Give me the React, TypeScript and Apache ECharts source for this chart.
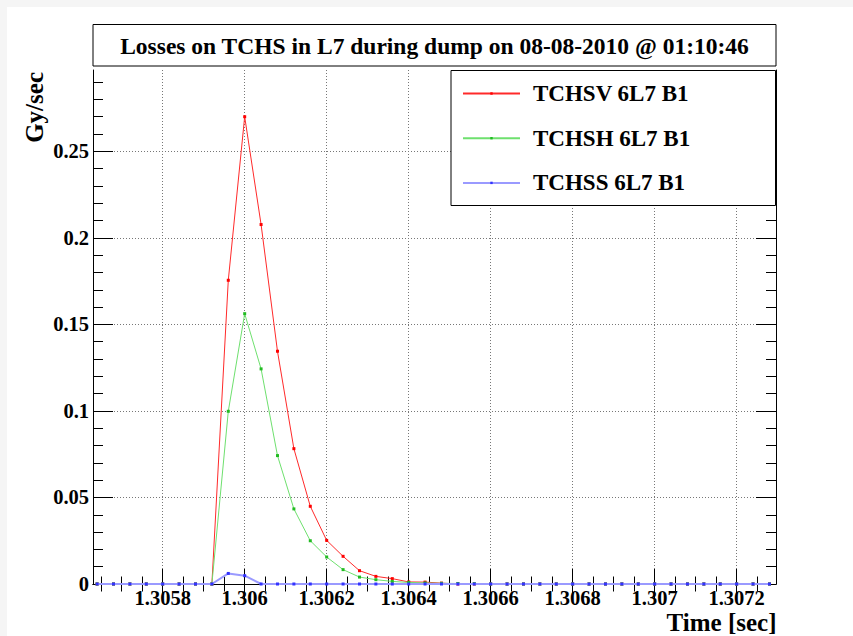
import React, { useEffect, useRef } from "react";
import * as echarts from "echarts";

// Time samples (s), 40 µs apart
const times = [
  1.30564, 1.30568, 1.30572, 1.30576, 1.3058, 1.30584, 1.30588, 1.30592,
  1.30596, 1.306, 1.30604, 1.30608, 1.30612, 1.30616, 1.3062, 1.30624,
  1.30628, 1.30632, 1.30636, 1.3064, 1.30644, 1.30648, 1.30652, 1.30656,
  1.3066, 1.30664, 1.30668, 1.30672, 1.30676, 1.3068, 1.30684, 1.30688,
  1.30692, 1.30696, 1.307, 1.30704, 1.30708, 1.30712, 1.30716, 1.3072,
  1.30724, 1.30728,
];

// Gy/sec
const tchsv = [
  0, 0, 0, 0, 0, 0, 0, 0,
  0.1755, 0.27, 0.2077, 0.1345, 0.0782, 0.0449, 0.0252, 0.016,
  0.0077, 0.0044, 0.0031, 0.0012, 0.0011, 0.0005, 0, 0,
  0, 0, 0, 0, 0, 0, 0, 0,
  0, 0, 0, 0, 0, 0, 0, 0,
  0, 0,
];
const tchsh = [
  0, 0, 0, 0, 0, 0, 0, 0,
  0.0998, 0.1562, 0.1243, 0.0742, 0.0434, 0.025, 0.0156, 0.0083,
  0.004, 0.0025, 0.0015, 0.0009, 0.0006, 0.0004, 0.0003, 0.0002,
  0, 0, 0, 0, 0, 0, 0, 0,
  0, 0, 0, 0, 0, 0, 0, 0,
  0, 0,
];
const tchss = [
  0, 0, 0, 0, 0, 0, 0, 0,
  0.0061, 0.0048, 0, 0, 0, 0, 0, 0,
  0, 0, 0, 0, 0, 0, 0, 0,
  0, 0, 0, 0, 0, 0, 0, 0,
  0, 0, 0, 0, 0, 0, 0, 0,
  0, 0,
];

const seriesNames = ["TCHSV 6L7 B1", "TCHSH 6L7 B1", "TCHSS 6L7 B1"];
const xMajorTicks = [1.3058, 1.306, 1.3062, 1.3064, 1.3066, 1.3068, 1.307, 1.3072];
const yMajorTicks = [0, 0.05, 0.1, 0.15, 0.2, 0.25];
const titleText = "Losses on TCHS in L7 during dump on 08-08-2010 @ 01:10:46";
const xName = "Time [sec]";
const yName = "Gy/sec";

const X_MIN = 1.30563;
const X_MAX = 1.307296;
const Y_MIN = 0;
const Y_MAX = 0.297;
const X_MINOR_STEP = 0.00005;
const Y_MINOR_STEP = 0.01;

function minorValues(min: number, max: number, step: number): number[] {
  const out: number[] = [];
  const a = Math.ceil(min / step - 1e-7);
  const b = Math.floor(max / step + 1e-7);
  for (let i = a; i <= b; i++) out.push(parseFloat((i * step).toFixed(6)));
  return out;
}

const FONT = "'Liberation Serif', 'Times New Roman', serif";

export default function App() {
  const ref = useRef<HTMLDivElement>(null);

  useEffect(() => {
    if (!ref.current) return;
    const chart = echarts.init(ref.current, undefined, { renderer: "svg" });

    const xMinor = minorValues(X_MIN, X_MAX, X_MINOR_STEP);
    const yMinor = minorValues(Y_MIN, Y_MAX, Y_MINOR_STEP);

    const gridLeft = 93;
    const gridTop = 70;
    const gridW = 683;
    const gridH = 514;

    const frameLine = { show: true, lineStyle: { color: "#000", width: 1 } };

    const xAxisBase = (position: "top" | "bottom", ticks: number[], len: number, main: boolean, showLabel: boolean) => ({
      type: "value" as const,
      min: X_MIN,
      max: X_MAX,
      position,
      axisLine: main ? frameLine : { show: false },
      axisTick: {
        show: true,
        inside: true,
        length: len,
        customValues: ticks,
        lineStyle: { color: "#000", width: 1 },
      },
      axisLabel: showLabel
        ? {
            show: true,
            customValues: xMajorTicks,
            formatter: (v: number) => String(parseFloat(v.toFixed(4))),
            fontFamily: FONT,
            fontWeight: "bold" as const,
            fontSize: 20.5,
            color: "#000",
            margin: 3,
          }
        : { show: false },
      splitLine:
        showLabel
          ? { show: true, lineStyle: { color: "#777", type: [1, 2], width: 1 } }
          : { show: false },
    });

    const yAxisBase = (position: "left" | "right", ticks: number[], len: number, main: boolean, showLabel: boolean) => ({
      type: "value" as const,
      min: Y_MIN,
      max: Y_MAX,
      position,
      axisLine: main ? frameLine : { show: false },
      axisTick: {
        show: true,
        inside: true,
        length: len,
        customValues: ticks,
        lineStyle: { color: "#000", width: 1 },
      },
      axisLabel: showLabel
        ? {
            show: true,
            customValues: yMajorTicks,
            formatter: (v: number) => String(parseFloat(v.toFixed(3))),
            fontFamily: FONT,
            fontWeight: "bold" as const,
            fontSize: 20.5,
            color: "#000",
            margin: 4,
          }
        : { show: false },
      splitLine:
        showLabel
          ? { show: true, lineStyle: { color: "#777", type: [1, 2], width: 1 } }
          : { show: false },
    });

    const mk = (vals: number[]) => times.map((t, i) => [t, vals[i]]);

    const lineColors = ["#ff2a2a", "#6ee06e", "#9a9aff"];
    const markerColors = ["#ff0000", "#22bb22", "#3333ff"];
    const allVals = [tchsv, tchsh, tchss];

    chart.setOption({
      animation: false,
      backgroundColor: "#ffffff",
      grid: { left: gridLeft, top: gridTop, width: gridW, height: gridH, containLabel: false },
      xAxis: [
        xAxisBase("bottom", xMajorTicks, 15, true, true),
        xAxisBase("bottom", xMinor, 7.5, false, false),
        xAxisBase("top", xMajorTicks, 15, true, false),
        xAxisBase("top", xMinor, 7.5, false, false),
      ],
      yAxis: [
        yAxisBase("left", yMajorTicks, 20, true, true),
        yAxisBase("left", yMinor, 10, false, false),
        yAxisBase("right", yMajorTicks, 20, true, false),
        yAxisBase("right", yMinor, 10, false, false),
      ],
      legend: {
        show: true,
        orient: "vertical",
        left: 457,
        top: 76.5,
        itemWidth: 57,
        itemHeight: 3,
        itemGap: 20.7,
        data: seriesNames,
        textStyle: {
          fontFamily: FONT,
          fontWeight: "bold",
          fontSize: 23,
          lineHeight: 24,
          color: "#000",
          padding: [0, 0, 0, 8],
        },
        z: 10,
      },
      series: seriesNames.map((name, i) => ({
        name,
        type: "line",
        xAxisIndex: 0,
        yAxisIndex: 0,
        data: mk(allVals[i]),
        showSymbol: true,
        symbol: "rect",
        symbolSize: 3,
        lineStyle: { color: lineColors[i], width: i === 2 ? 2 : 1 },
        itemStyle: { color: markerColors[i] },
        emphasis: { disabled: true },
        z: 2 + i,
      })),
      graphic: [
        { type: "rect", shape: { x: 0, y: 0, width: 853, height: 7 }, style: { fill: "#f5f5f5" }, z: -1, silent: true },
        { type: "rect", shape: { x: 0, y: 0, width: 7, height: 636 }, style: { fill: "#f5f5f5" }, z: -1, silent: true },
        {
          type: "rect",
          shape: { x: 93, y: 24.5, width: 683, height: 41.5 },
          style: { fill: "#fff", stroke: "#000", lineWidth: 1 },
          z: 5,
          silent: true,
        },
        {
          type: "text",
          x: 434.5,
          y: 45.5,
          style: {
            text: titleText,
            fill: "#000",
            font: `bold 23.5px ${FONT}`,
            textAlign: "center",
            textVerticalAlign: "middle",
          },
          z: 6,
          silent: true,
        },
        {
          type: "rect",
          shape: { x: 451, y: 70.5, width: 324.5, height: 135 },
          style: { fill: "#fff", stroke: "#000", lineWidth: 1 },
          z: 5,
          silent: true,
        },
        {
          type: "text",
          x: 34,
          y: 72,
          rotation: Math.PI / 2,
          style: {
            text: yName,
            fill: "#000",
            font: `bold 25px ${FONT}`,
            textAlign: "right",
            textVerticalAlign: "middle",
          },
          z: 6,
          silent: true,
        },
        {
          type: "text",
          x: 776.5,
          y: 622,
          style: {
            text: xName,
            fill: "#000",
            font: `bold 25px ${FONT}`,
            textAlign: "right",
            textVerticalAlign: "middle",
          },
          z: 6,
          silent: true,
        },
      ],
    });

    return () => chart.dispose();
  }, []);

  return (
    <div
      ref={ref}
      style={{ position: "fixed", left: 0, top: 0, width: 853, height: 636 }}
    />
  );
}
